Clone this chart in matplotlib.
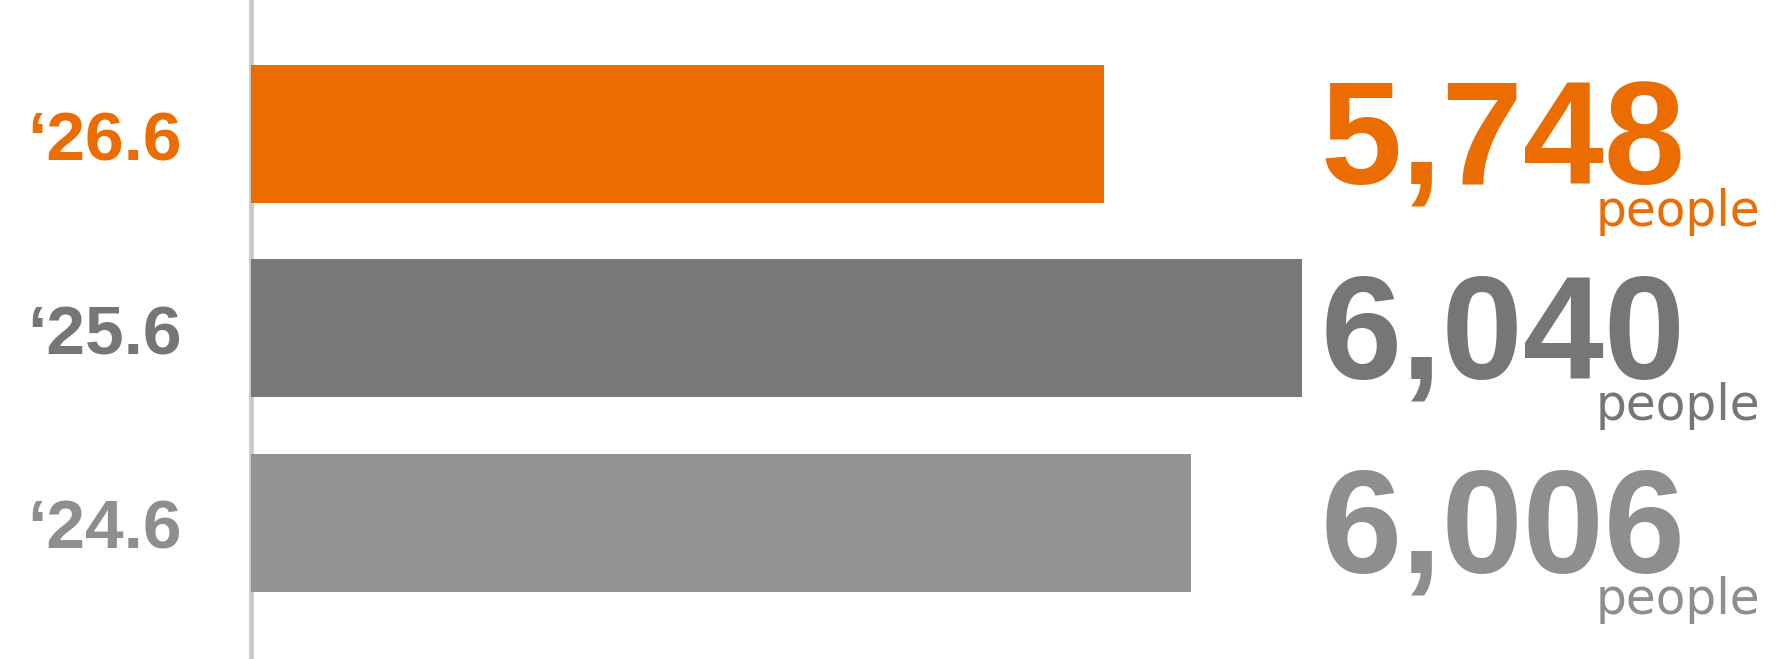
import matplotlib
matplotlib.use("Agg")
import matplotlib.pyplot as plt
import matplotlib.transforms as mtransforms

# data
periods = ["\u201826.6", "\u201825.6", "\u201824.6"]
people = [5748, 6040, 6006]
# drawn bar lengths (the source bars are not to scale with the labels)
bar_len = [4902, 6040, 5399]
x_max = 8783

bar_colors = ["#EB6C00", "#797876", "#949391"]
label_colors = ["#EB6C00", "#777674", "#8F8E8C"]

fig = plt.figure(figsize=(17.8, 6.59), dpi=100)
ax = fig.add_axes([0.141, 0.0, 0.859, 1.0])

ypos = list(range(len(people)))
ax.barh(ypos, bar_len, height=0.711, color=bar_colors, zorder=3)

ax.set_xlim(0, x_max)
ax.set_ylim(2.702, -0.690)

for s in ["top", "right", "bottom"]:
    ax.spines[s].set_visible(False)
ax.spines["left"].set_color("#C9C9C9")
ax.spines["left"].set_linewidth(3.4)
ax.spines["left"].set_zorder(1)
ax.set_xticks([])
ax.set_yticks([])

trans = mtransforms.blended_transform_factory(ax.transAxes, ax.transData)
sans = ["Liberation Sans", "DejaVu Sans"]

for y, lab, val, c in zip(ypos, periods, people, label_colors):
    ax.text(-0.1465, y + 0.135, lab, transform=trans, ha="left", va="baseline",
            fontsize=50, fontweight="bold", color=c, family=sans)
    ax.text(0.938, y + 0.258, f"{val:,}", transform=trans, ha="right", va="baseline",
            fontsize=105, fontweight="bold", color=c, family=sans)
    ax.text(0.9869, y + 0.472, "people", transform=trans, ha="right", va="baseline",
            fontsize=35, color=c, family=["DejaVu Sans"])

fig.savefig("out.png", dpi=100, facecolor="white")
